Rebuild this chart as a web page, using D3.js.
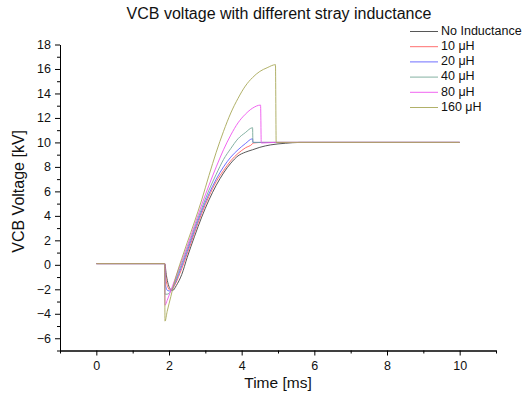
<!DOCTYPE html>
<html>
<head>
<meta charset="utf-8">
<script src="https://cdn.jsdelivr.net/npm/d3@7"></script>
<style>
  body { margin: 0; background: #fff; }
  svg { font-family: "Liberation Sans", Arial, sans-serif; }
</style>
</head>
<body>
<svg id="chart" width="523" height="395"></svg>
<script>
// series: [time ms, voltage kV]
const seriesNames = ['No Inductance', '10 \u03bcH', '20 \u03bcH', '40 \u03bcH', '80 \u03bcH', '160 \u03bcH'];
const seriesColors = ['#444444', '#ff6060', '#6060ff', '#76a898', '#ee55ee', '#a8a858'];

const noInductance = [[0, 0.1], [1.88, 0.1], [1.93, -0.9], [1.98, -1.6], [2.04, -2.0], [2.1, -2.1], [2.2, -1.7],
  [2.35, -0.8], [2.5, 0.6], [2.7, 2.3], [2.9, 3.9], [3.1, 5.3], [3.3, 6.5], [3.5, 7.5], [3.7, 8.3], [3.9, 8.9],
  [4.1, 9.2], [4.3, 9.4], [4.5, 9.6], [4.8, 9.8], [5.2, 9.93], [5.6, 10], [10, 10]];
const l10 = [[0, 0.1], [1.88, 0.1], [1.92, -1.2], [1.98, -1.9], [2.05, -2.1], [2.15, -1.7], [2.3, -0.7], [2.5, 0.9],
  [2.7, 2.6], [2.9, 4.2], [3.1, 5.6], [3.3, 6.8], [3.5, 7.7], [3.7, 8.5], [3.9, 9.1], [4.1, 9.55], [4.3, 9.9],
  [4.31, 9.95], [4.6, 10], [10, 10]];
const l20 = [[0, 0.1], [1.88, 0.1], [1.9, -1.6], [1.96, -2.1], [2.05, -2.15], [2.15, -1.6], [2.3, -0.5], [2.5, 1.1],
  [2.7, 2.8], [2.9, 4.4], [3.1, 5.8], [3.3, 7.0], [3.5, 8.0], [3.7, 8.8], [3.9, 9.4], [4.1, 9.9], [4.3, 10.3],
  [4.31, 10.0], [4.6, 10], [10, 10]];
const l40 = [[0, 0.1], [1.88, 0.1], [1.89, -2.4], [1.95, -2.4], [2.05, -2.15], [2.15, -1.5], [2.3, -0.3], [2.5, 1.3],
  [2.7, 3.0], [2.9, 4.6], [3.1, 6.1], [3.3, 7.4], [3.5, 8.6], [3.7, 9.5], [3.9, 10.3], [4.1, 10.8], [4.3, 11.2],
  [4.31, 10.0], [4.6, 10], [10, 10]];
const l80 = [[0, 0.1], [1.88, 0.1], [1.89, -3.3], [1.95, -2.9], [2.05, -2.1], [2.15, -1.3], [2.3, -0.1], [2.5, 1.5],
  [2.7, 3.2], [2.9, 4.9], [3.1, 6.5], [3.3, 8.0], [3.5, 9.4], [3.7, 10.6], [3.9, 11.6], [4.1, 12.3], [4.3, 12.8],
  [4.52, 13.05], [4.54, 9.95], [4.9, 10], [10, 10]];
const l160 = [[0, 0.1], [1.88, 0.1], [1.89, -4.6], [1.95, -3.8], [2.05, -2.6], [2.15, -1.4], [2.25, -0.4], [2.35, 0.5],
  [2.5, 1.8], [2.7, 3.5], [2.9, 5.3], [3.1, 7.3], [3.3, 9.2], [3.5, 10.9], [3.7, 12.4], [3.9, 13.6], [4.1, 14.6],
  [4.3, 15.3], [4.5, 15.8], [4.7, 16.1], [4.93, 16.35], [4.95, 10.0], [5.3, 10.0], [10, 10]];
const seriesData = [noInductance, l10, l20, l40, l80, l160];

const xMajorTicks = [0, 2, 4, 6, 8, 10];
const xMinorTicks = [-1, 1, 3, 5, 7, 9, 11];
const yMajorTicks = [-6, -4, -2, 0, 2, 4, 6, 8, 10, 12, 14, 16, 18];
const yMinorTicks = [-7, -5, -3, -1, 1, 3, 5, 7, 9, 11, 13, 15, 17];

(function() {
    const svg = d3.select('#chart');
    const margin = { top: 44.5, right: 27, bottom: 44.5, left: 60 };
    const width = 523, height = 395;

    const xScale = d3.scaleLinear().domain([-1, 11]).range([margin.left, width - margin.right]);
    const yScale = d3.scaleLinear().domain([-7, 18]).range([height - margin.bottom, margin.top]);

    // title
    svg.append('text')
        .attr('x', 279)
        .attr('y', 19)
        .attr('text-anchor', 'middle')
        .attr('font-size', '16px')
        .attr('fill', '#111')
        .text('VCB voltage with different stray inductance');

    // axes
    svg.append('g')
        .attr('transform', `translate(0, ${height - margin.bottom})`)
        .call(d3.axisBottom(xScale).tickValues(xMajorTicks).tickSize(5).tickSizeOuter(0).tickPadding(6));
    svg.append('g')
        .attr('transform', `translate(0, ${height - margin.bottom})`)
        .call(d3.axisBottom(xScale).tickValues(xMinorTicks).tickSize(3).tickSizeOuter(0).tickFormat(''));

    svg.append('g')
        .attr('transform', `translate(${margin.left}, 0)`)
        .call(d3.axisLeft(yScale).tickValues(yMajorTicks).tickSize(5).tickSizeOuter(0).tickPadding(4));
    svg.append('g')
        .attr('transform', `translate(${margin.left}, 0)`)
        .call(d3.axisLeft(yScale).tickValues(yMinorTicks).tickSize(3).tickSizeOuter(0).tickFormat(''));

    svg.selectAll('.domain, .tick line').attr('stroke', '#000').attr('stroke-width', 1);
    svg.selectAll('.tick text')
        .attr('font-family', '"Liberation Sans", Arial, sans-serif')
        .attr('font-size', '12.5px')
        .attr('fill', '#111');

    // axis labels
    svg.append('text')
        .attr('x', xScale(5))
        .attr('y', 388)
        .attr('text-anchor', 'middle')
        .attr('font-size', '15.5px')
        .attr('fill', '#111')
        .text('Time [ms]');

    svg.append('text')
        .attr('transform', 'rotate(-90)')
        .attr('x', -yScale(6))
        .attr('y', 24)
        .attr('text-anchor', 'middle')
        .attr('font-size', '16px')
        .attr('fill', '#111')
        .text('VCB Voltage [kV]');

    // lines
    const line = d3.line()
        .x(d => xScale(d[0]))
        .y(d => yScale(d[1]))
        .curve(d3.curveMonotoneX);

    seriesData.forEach((data, i) => {
        svg.append('path')
            .datum(data)
            .attr('fill', 'none')
            .attr('stroke', seriesColors[i])
            .attr('stroke-width', 0.9)
            .attr('d', line);
    });

    // legend
    const legend = svg.append('g').attr('transform', 'translate(410, 31.5)');
    seriesNames.forEach((name, i) => {
        const item = legend.append('g').attr('transform', `translate(0, ${i * 15.2})`);
        item.append('line')
            .attr('x1', 0).attr('x2', 28)
            .attr('stroke', seriesColors[i])
            .attr('stroke-width', 0.9);
        item.append('text')
            .attr('x', 31)
            .attr('y', 0)
            .attr('dominant-baseline', 'middle')
            .attr('font-size', '12.5px')
            .attr('fill', '#111')
            .text(name);
    });
})();
</script>
</body>
</html>
